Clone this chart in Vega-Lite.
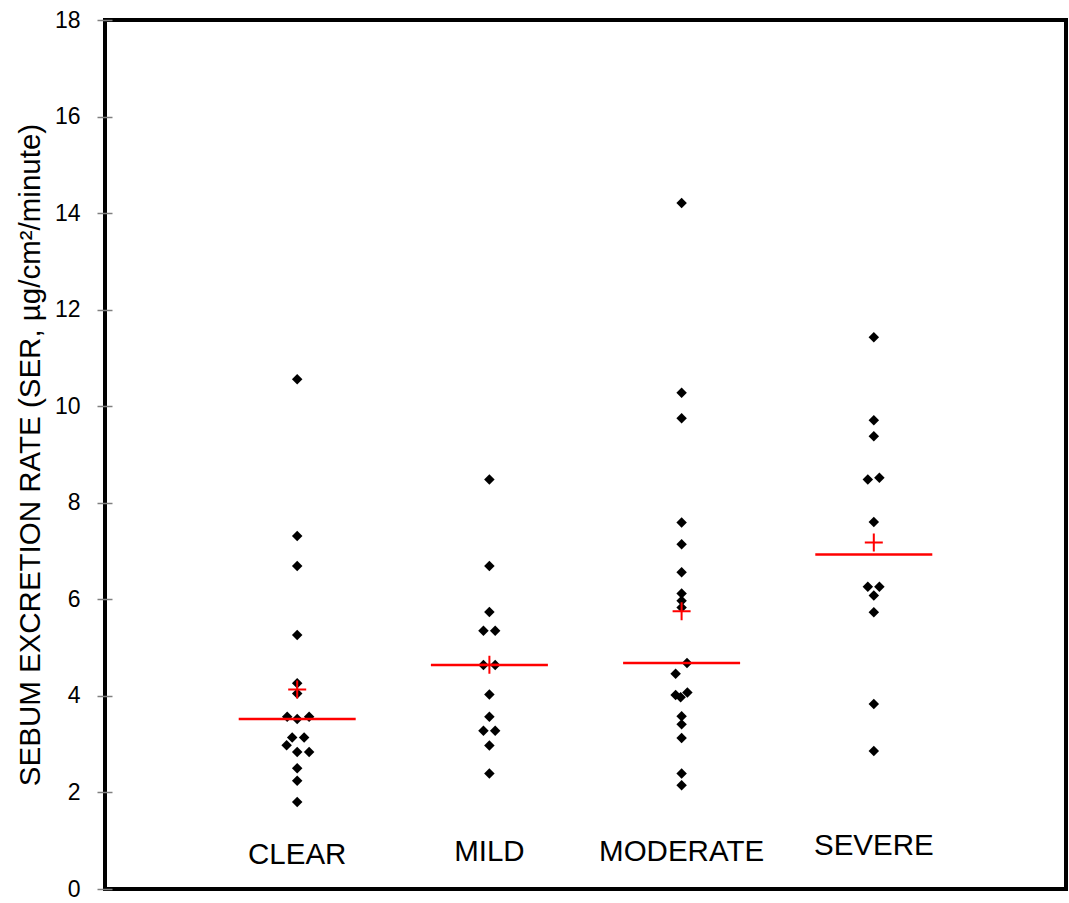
{
  "$schema": "https://vega.github.io/schema/vega-lite/v6.json",
  "autosize": {"type": "none"},
  "width": 961,
  "height": 869,
  "padding": {"left": 105, "top": 20, "right": 3, "bottom": 14},
  "background": "white",
  "config": {
    "view": {"stroke": "black", "strokeWidth": 4},
    "font": "Liberation Sans"
  },
  "datasets": {
    "points": [
      {"group": "CLEAR", "x": 1, "ser": 10.56},
      {"group": "CLEAR", "x": 1, "ser": 7.31},
      {"group": "CLEAR", "x": 1, "ser": 6.69},
      {"group": "CLEAR", "x": 1, "ser": 5.26},
      {"group": "CLEAR", "x": 1, "ser": 4.26},
      {"group": "CLEAR", "x": 1, "ser": 4.05},
      {"group": "CLEAR", "x": 0.948, "ser": 3.57},
      {"group": "CLEAR", "x": 1.062, "ser": 3.57},
      {"group": "CLEAR", "x": 1, "ser": 3.52},
      {"group": "CLEAR", "x": 0.974, "ser": 3.14},
      {"group": "CLEAR", "x": 1.036, "ser": 3.14},
      {"group": "CLEAR", "x": 0.945, "ser": 2.98},
      {"group": "CLEAR", "x": 1, "ser": 2.84},
      {"group": "CLEAR", "x": 1.062, "ser": 2.84},
      {"group": "CLEAR", "x": 1, "ser": 2.5},
      {"group": "CLEAR", "x": 1, "ser": 2.24},
      {"group": "CLEAR", "x": 1, "ser": 1.8},
      {"group": "MILD", "x": 2, "ser": 8.48},
      {"group": "MILD", "x": 2, "ser": 6.69},
      {"group": "MILD", "x": 2, "ser": 5.74},
      {"group": "MILD", "x": 1.969, "ser": 5.35},
      {"group": "MILD", "x": 2.03, "ser": 5.35},
      {"group": "MILD", "x": 1.969, "ser": 4.64},
      {"group": "MILD", "x": 2.03, "ser": 4.64},
      {"group": "MILD", "x": 2, "ser": 4.03},
      {"group": "MILD", "x": 2, "ser": 3.57},
      {"group": "MILD", "x": 1.969, "ser": 3.28},
      {"group": "MILD", "x": 2.03, "ser": 3.28},
      {"group": "MILD", "x": 2, "ser": 2.97},
      {"group": "MILD", "x": 2, "ser": 2.39},
      {"group": "MODERATE", "x": 3, "ser": 14.21},
      {"group": "MODERATE", "x": 3, "ser": 10.28},
      {"group": "MODERATE", "x": 3, "ser": 9.75},
      {"group": "MODERATE", "x": 3, "ser": 7.59},
      {"group": "MODERATE", "x": 3, "ser": 7.14},
      {"group": "MODERATE", "x": 3, "ser": 6.56},
      {"group": "MODERATE", "x": 3, "ser": 6.12},
      {"group": "MODERATE", "x": 3, "ser": 5.97},
      {"group": "MODERATE", "x": 3, "ser": 5.83},
      {"group": "MODERATE", "x": 3.028, "ser": 4.68},
      {"group": "MODERATE", "x": 2.969, "ser": 4.46},
      {"group": "MODERATE", "x": 2.969, "ser": 4.02},
      {"group": "MODERATE", "x": 2.995, "ser": 3.97},
      {"group": "MODERATE", "x": 3.03, "ser": 4.07},
      {"group": "MODERATE", "x": 3, "ser": 3.58},
      {"group": "MODERATE", "x": 3, "ser": 3.41},
      {"group": "MODERATE", "x": 3, "ser": 3.13},
      {"group": "MODERATE", "x": 3, "ser": 2.39},
      {"group": "MODERATE", "x": 3, "ser": 2.15},
      {"group": "SEVERE", "x": 4, "ser": 11.43},
      {"group": "SEVERE", "x": 4, "ser": 9.71},
      {"group": "SEVERE", "x": 4, "ser": 9.38},
      {"group": "SEVERE", "x": 3.969, "ser": 8.48},
      {"group": "SEVERE", "x": 4.029, "ser": 8.52},
      {"group": "SEVERE", "x": 4, "ser": 7.6},
      {"group": "SEVERE", "x": 3.969, "ser": 6.26},
      {"group": "SEVERE", "x": 4.029, "ser": 6.26},
      {"group": "SEVERE", "x": 4, "ser": 6.08},
      {"group": "SEVERE", "x": 4, "ser": 5.73},
      {"group": "SEVERE", "x": 4, "ser": 3.83},
      {"group": "SEVERE", "x": 4, "ser": 2.86}
    ],
    "groups": [
      {"group": "CLEAR", "pos": 1, "label_y": 0.7},
      {"group": "MILD", "pos": 2, "label_y": 0.77},
      {"group": "MODERATE", "pos": 3, "label_y": 0.77},
      {"group": "SEVERE", "pos": 4, "label_y": 0.89}
    ]
  },
  "layer": [
    {
      "data": {"name": "points"},
      "mark": {"type": "point", "shape": "diamond", "filled": true, "color": "black", "size": 110, "opacity": 1},
      "encoding": {
        "x": {"field": "x", "type": "quantitative", "scale": {"domain": [0, 5], "nice": false, "zero": false}, "axis": null},
        "y": {"field": "ser", "type": "quantitative", "scale": {"domain": [0, 18], "nice": false},
          "axis": {
            "title": "SEBUM EXCRETION RATE (SER, µg/cm²/minute)",
            "titleFontSize": 29.5, "titleFontWeight": "normal", "titleColor": "black", "titlePadding": 9,
            "values": [0, 2, 4, 6, 8, 10, 12, 14, 16, 18],
            "grid": false, "domain": false,
            "offset": -7, "tickSize": 15, "tickColor": "#808080", "tickWidth": 1.5,
            "labelFontSize": 23, "labelColor": "black", "labelPadding": 17
          }
        }
      }
    },
    {
      "data": {"name": "points"},
      "transform": [
        {"aggregate": [{"op": "median", "field": "ser", "as": "median_ser"}], "groupby": ["group"]},
        {"lookup": "group", "from": {"data": {"name": "groups"}, "key": "group", "fields": ["pos"]}}
      ],
      "mark": {"type": "tick", "orient": "horizontal", "color": "#FF0000", "thickness": 2.5, "size": 117, "opacity": 1},
      "encoding": {
        "x": {"field": "pos", "type": "quantitative"},
        "y": {"field": "median_ser", "type": "quantitative"}
      }
    },
    {
      "data": {"name": "points"},
      "transform": [
        {"aggregate": [{"op": "mean", "field": "ser", "as": "mean_ser"}], "groupby": ["group"]},
        {"lookup": "group", "from": {"data": {"name": "groups"}, "key": "group", "fields": ["pos"]}}
      ],
      "mark": {"type": "point", "shape": "M-1,0H1M0,-1V1", "filled": false, "stroke": "#FF0000", "strokeWidth": 2, "size": 324, "opacity": 1},
      "encoding": {
        "x": {"field": "pos", "type": "quantitative"},
        "y": {"field": "mean_ser", "type": "quantitative"}
      }
    },
    {
      "data": {"name": "groups"},
      "mark": {"type": "text", "fontSize": 29.5, "color": "black", "baseline": "middle", "align": "center"},
      "encoding": {
        "x": {"field": "pos", "type": "quantitative"},
        "y": {"field": "label_y", "type": "quantitative"},
        "text": {"field": "group"}
      }
    }
  ]
}
